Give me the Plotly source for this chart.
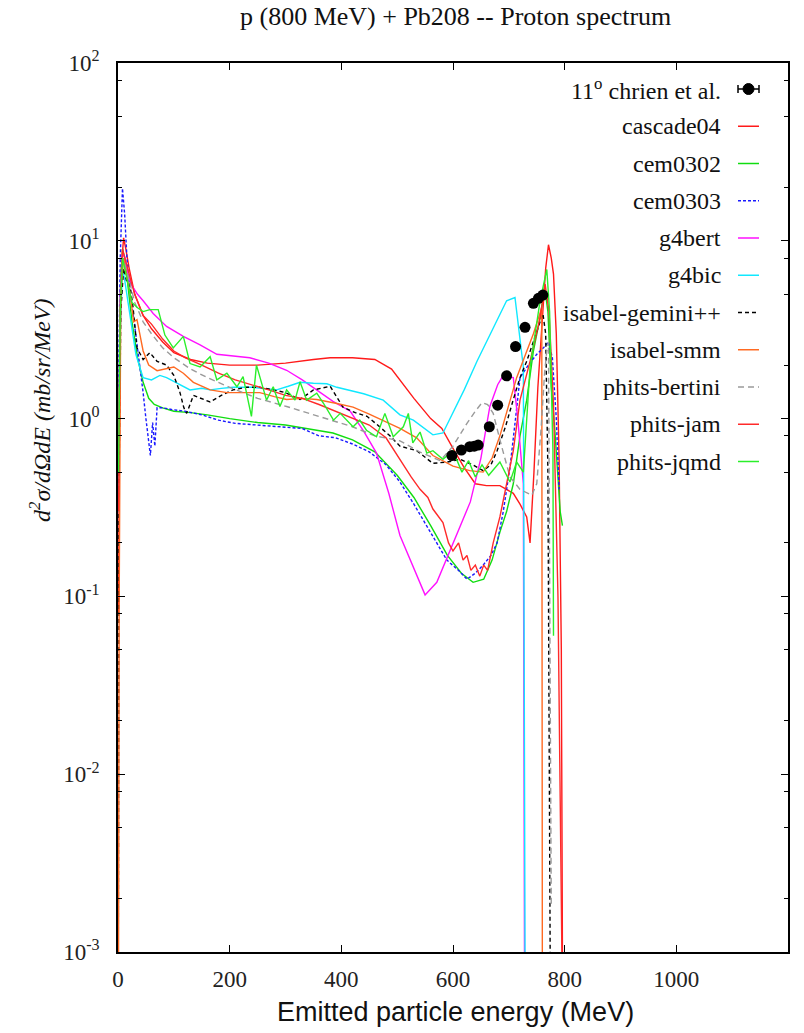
import plotly.graph_objects as go

# ---------------- data (E in MeV, values in mb/sr/MeV) ----------------
exp_E = [598, 615, 630, 638, 645, 665, 680, 696, 712, 729, 744, 753, 761]
exp_V = [0.62, 0.665, 0.695, 0.70, 0.71, 0.90, 1.19, 1.74, 2.54, 3.26, 4.45, 4.75, 4.95]

cascade04_E = [1, 3, 6, 10, 14, 20, 30, 45, 60, 80, 100, 130, 160, 200, 250, 300, 350, 380, 420, 460,
               490, 505, 530, 560, 580, 600, 620, 640, 660, 684, 708, 720, 732, 738, 745, 752, 760, 766,
               771, 776, 780, 785, 790, 794, 796]
cascade04_V = [0.08, 2, 7, 10.4, 9, 7, 5, 3.8, 3.2, 2.7, 2.35, 2.15, 2.05, 2.0, 2.0, 2.05, 2.15, 2.2, 2.2, 2.15,
               1.9, 1.65, 1.3, 1.0, 0.88, 0.68, 0.53, 0.43, 0.42, 0.42, 0.38, 0.33, 0.28, 0.2, 0.5, 1.5, 3.5, 7,
               9.5, 8, 6.5, 3, 0.6, 0.05, 0.001]

cem0302_E = [1, 4, 8, 12, 18, 25, 35, 45, 55, 65, 80, 100, 130, 160, 200, 250, 300, 350, 385, 420, 460, 500,
             530, 560, 590, 615, 636, 655, 670, 684, 696, 708, 720, 732, 744, 756, 764, 770, 776, 782, 788,
             792, 796]
cem0302_V = [1.0, 5, 9, 8, 5.5, 3.5, 2.2, 1.6, 1.3, 1.2, 1.15, 1.1, 1.08, 1.05, 1.0, 0.95, 0.92, 0.87, 0.83,
             0.76, 0.65, 0.48, 0.36, 0.25, 0.17, 0.135, 0.12, 0.125, 0.16, 0.23, 0.3, 0.43, 0.8, 1.27, 2.4,
             3.7, 5.5, 4.0, 1.5, 0.9, 0.5, 0.3, 0.25]

cem0303_E = [1, 4, 8, 12, 16, 22, 28, 35, 40, 45, 50, 55, 58, 62, 66, 70, 80, 100, 120, 150, 180, 210, 250,
             290, 330, 360, 390, 420, 450, 480, 505, 530, 560, 589, 610, 625, 640, 654, 668, 679, 690, 702,
             712, 720, 735, 750, 762, 771, 778, 785, 790]
cem0303_V = [1.5, 8, 19.7, 14, 8, 5, 3.7, 2.5, 1.95, 1.4, 1.0, 0.75, 0.62, 0.95, 0.7, 1.15, 1.15, 1.12, 1.1,
             1.05, 0.98, 0.94, 0.92, 0.9, 0.88, 0.8, 0.78, 0.72, 0.65, 0.55, 0.44, 0.33, 0.23, 0.16, 0.14,
             0.125, 0.135, 0.15, 0.17, 0.2, 0.3, 0.53, 1.0, 1.7, 2.0, 2.3, 2.5, 2.7, 2.2, 1.0, 0.4]

g4bert_E = [1, 4, 8, 12, 18, 25, 35, 45, 63, 87, 117, 147, 177, 206, 236, 270, 302, 330, 356, 385, 416, 440,
            463, 485, 505, 528, 550, 571, 600, 631, 650, 666, 680, 690, 700, 708, 716, 726, 728]
g4bert_V = [0.5, 5, 8.5, 8.1, 6.5, 5.6, 5.0, 4.6, 3.9, 3.3, 2.9, 2.6, 2.3, 2.25, 2.2, 2.05, 1.87, 1.65, 1.45,
            1.25, 1.1, 0.85, 0.64, 0.38, 0.22, 0.15, 0.102, 0.12, 0.2, 0.34, 0.6, 1.17, 1.55, 1.75, 1.72,
            1.7, 1.0, 0.43, 0.001]

g4bic_E = [1, 4, 8, 12, 18, 25, 32, 40, 45, 60, 75, 87, 110, 129, 150, 165, 185, 206, 240, 284, 305, 326,
           350, 374, 392, 410, 440, 475, 505, 529, 550, 564, 582, 595, 620, 643, 670, 696, 711, 718, 726, 729]
g4bic_V = [0.3, 3, 7, 6, 4.5, 3.2, 2.3, 1.9, 1.7, 1.65, 1.75, 1.7, 1.55, 1.45, 1.48, 1.45, 1.48, 1.5, 1.5,
           1.45, 1.52, 1.6, 1.58, 1.57, 1.5, 1.45, 1.38, 1.27, 1.05, 0.98, 0.88, 0.81, 0.83, 1.0, 1.45, 2.1,
           3.1, 4.6, 4.8, 3.2, 1.95, 0.001]

gemini_E = [0.5, 2, 5, 10, 15, 21, 27, 34, 45, 57, 70, 87, 100, 111, 118, 123, 135, 150, 165, 185, 206, 230,
            254, 278, 300, 326, 350, 380, 403, 425, 446, 465, 487, 505, 535, 564, 590, 613, 635, 654, 668,
            679, 694, 708, 720, 732, 745, 756, 761, 766, 770, 774]
gemini_V = [0.001, 0.5, 4, 7, 6, 5.8, 4.2, 2.5, 2.15, 2.35, 2.1, 2.0, 1.75, 1.4, 1.15, 1.07, 1.35, 1.3, 1.24,
            1.35, 1.45, 1.5, 1.5, 1.45, 1.4, 1.28, 1.45, 1.52, 1.16, 1.08, 1.03, 0.92, 0.8, 0.7, 0.66, 0.56,
            0.57, 0.59, 0.55, 0.51, 0.55, 0.66, 0.9, 1.28, 1.7, 2.1, 2.8, 3.5, 3.9, 3.0, 0.5, 0.001]

smm_E = [1, 2, 5, 10, 15, 22, 28, 34, 45, 55, 70, 87, 100, 117, 135, 165, 195, 225, 254, 280, 302, 330, 356,
         390, 421, 450, 475, 505, 535, 564, 600, 630, 654, 670, 684, 700, 714, 730, 744, 752, 759, 760]
smm_V = [0.001, 0.08, 5, 8, 6.5, 5, 3.5, 3.6, 2.4, 2.0, 1.86, 1.9, 1.95, 1.8, 1.6, 1.45, 1.4, 1.4, 1.4, 1.33,
         1.28, 1.3, 1.28, 1.22, 1.16, 1.06, 0.97, 0.88, 0.78, 0.62, 0.54, 0.51, 0.5, 0.6, 0.8, 1.2, 1.7, 2.3,
         3.0, 3.6, 4.2, 0.001]

bertini_E = [1, 4, 8, 12, 20, 30, 45, 60, 80, 100, 130, 160, 200, 250, 302, 350, 385, 420, 460, 505, 540,
             577, 600, 625, 640, 652, 662, 672, 687, 702, 720, 741, 750, 758, 764, 768, 771, 774, 776]
bertini_V = [0.5, 5, 8, 7.5, 6, 4.5, 3.5, 3.0, 2.5, 2.2, 1.9, 1.7, 1.5, 1.3, 1.17, 1.05, 0.98, 0.9, 0.8, 0.75,
             0.65, 0.58, 0.7, 0.94, 1.1, 1.23, 1.2, 1.07, 0.7, 0.47, 0.4, 0.37, 0.43, 0.9, 1.8, 2.4, 2.7, 0.01,
             0.0018]

jam_E = [1, 4, 8, 12, 20, 30, 45, 60, 80, 100, 120, 150, 180, 210, 240, 270, 300, 330, 360, 390, 420, 450,
         480, 495, 510, 525, 541, 555, 564, 575, 582, 592, 600, 610, 618, 625, 632, 640, 648, 655, 662, 672,
         684, 696, 708, 720, 738, 756, 765, 772, 780, 788, 795]
jam_V = [0.3, 4, 9, 8, 6.5, 5, 3.8, 3.4, 2.8, 2.4, 2.2, 2.0, 1.8, 1.65, 1.55, 1.45, 1.35, 1.3, 1.2, 1.1, 1.0,
         0.92, 0.78, 0.66, 0.55, 0.47, 0.4, 0.36, 0.31, 0.28, 0.26, 0.2, 0.18, 0.2, 0.16, 0.17, 0.14, 0.15,
         0.13, 0.15, 0.14, 0.2, 0.28, 0.43, 0.66, 1.27, 2.1, 3.7, 5.7, 4.0, 1.2, 0.1, 0.001]

jqmd_E = [1, 4, 8, 12, 18, 25, 35, 45, 57, 72, 84, 99, 117, 129, 147, 165, 177, 195, 213, 224, 239, 248, 266,
          278, 290, 302, 317, 326, 338, 356, 368, 386, 398, 421, 433, 445, 463, 478, 493, 511, 520, 528, 541,
          553, 564, 582, 600, 616, 628, 640, 652, 664, 684, 702, 714, 726, 738, 756, 768, 773, 779, 780]
jqmd_V = [0.5, 4, 8, 7, 5.5, 4.5, 4.2, 4.0, 4.1, 4.1, 2.95, 2.5, 2.9, 2.04, 1.95, 2.23, 1.65, 1.8, 1.51, 1.72,
          1.03, 2.0, 1.27, 1.51, 1.17, 1.45, 1.27, 1.61, 1.27, 1.39, 1.22, 0.98, 1.07, 0.9, 0.98, 0.86, 0.79,
          1.07, 0.79, 0.9, 1.07, 0.73, 0.84, 0.64, 0.66, 0.59, 0.66, 0.5, 0.58, 0.47, 0.55, 0.48, 0.57, 0.44,
          0.57, 0.5, 1.95, 4.6, 6.9, 4.0, 0.66, 0.06]

x_ticks = [0, 200, 400, 600, 800, 1000, 1200]
y_ticks = [1e-3, 1e-2, 1e-1, 1, 10, 100]
y_tick_text = ["10<sup>-3</sup>", "10<sup>-2</sup>", "10<sup>-1</sup>", "10<sup>0</sup>", "10<sup>1</sup>",
               "10<sup>2</sup>"]

series = [
    ("cascade04", cascade04_E, cascade04_V, "#ff1a1a", "solid"),
    ("cem0302", cem0302_E, cem0302_V, "#10dd10", "solid"),
    ("cem0303", cem0303_E, cem0303_V, "#1a1aff", "3px,2px"),
    ("g4bert", g4bert_E, g4bert_V, "#ff10ff", "solid"),
    ("g4bic", g4bic_E, g4bic_V, "#10e8ff", "solid"),
    ("isabel-gemini++", gemini_E, gemini_V, "#000000", "4px,3px"),
    ("isabel-smm", smm_E, smm_V, "#ff6a22", "solid"),
    ("phits-bertini", bertini_E, bertini_V, "#9a9a9a", "6px,4px"),
    ("phits-jam", jam_E, jam_V, "#ff2a2a", "solid"),
    ("phits-jqmd", jqmd_E, jqmd_V, "#2aef2a", "solid"),
]

# ---------------- layout geometry ----------------
W, H = 804, 1033
L, R, T, B = 118, 788, 63, 952


def px_x(px):
    return (px - L) / (R - L)


def px_y(py):
    return (B - py) / (B - T)


fig = go.Figure()
for name, E, V, col, dash in series:
    fig.add_trace(go.Scatter(x=E, y=V, mode="lines", name=name,
                             line=dict(color=col, width=1.4, dash=dash), showlegend=False))

fig.add_trace(go.Scatter(x=exp_E, y=exp_V, mode="markers", name="11° chrien et al.",
                         marker=dict(color="black", size=11), showlegend=False))

serif = "Liberation Serif"
sans = "Liberation Sans"

# ---------------- manual gnuplot-style legend ----------------
annotations = []
shapes = []
leg_y0, leg_dy = 89, 37.25
txt_right = 723
s0, s1 = 738, 759
labels = ["11<sup>o</sup> chrien et al."] + [s[0] for s in series]
for i, lab in enumerate(labels):
    yy = leg_y0 + i * leg_dy
    annotations.append(dict(x=px_x(txt_right), y=px_y(yy), xref="paper", yref="paper", text=lab,
                            showarrow=False, xanchor="right", yanchor="middle",
                            font=dict(family=serif, size=24, color="#111")))
    if i == 0:
        shapes.append(dict(type="line", xref="paper", yref="paper", x0=px_x(s0), x1=px_x(s1),
                           y0=px_y(yy), y1=px_y(yy), line=dict(color="black", width=1.5)))
        for xe in (s0, s1):
            shapes.append(dict(type="line", xref="paper", yref="paper", x0=px_x(xe), x1=px_x(xe),
                               y0=px_y(yy - 4), y1=px_y(yy + 4), line=dict(color="black", width=1.5)))
        cx = (s0 + s1) / 2
        shapes.append(dict(type="circle", xref="paper", yref="paper", x0=px_x(cx - 5.5), x1=px_x(cx + 5.5),
                           y0=px_y(yy - 5.5), y1=px_y(yy + 5.5), fillcolor="black",
                           line=dict(color="black", width=1)))
    else:
        _, _, _, col, dash = series[i - 1]
        shapes.append(dict(type="line", xref="paper", yref="paper", x0=px_x(s0), x1=px_x(s1),
                           y0=px_y(yy), y1=px_y(yy), line=dict(color=col, width=1.5, dash=dash)))

# titles
annotations.append(dict(x=px_x(455), y=px_y(16), xref="paper", yref="paper",
                        text="p (800 MeV) + Pb208 -- Proton spectrum", showarrow=False,
                        xanchor="center", yanchor="middle", font=dict(family=serif, size=26, color="#111")))
annotations.append(dict(x=px_x(455), y=px_y(1012), xref="paper", yref="paper",
                        text="Emitted particle energy (MeV)", showarrow=False,
                        xanchor="center", yanchor="middle",
                        font=dict(family=sans, size=27, color="#111")))
annotations.append(dict(x=px_x(40), y=px_y(410), xref="paper", yref="paper",
                        text="<i>d<sup>2</sup>σ/dΩdE (mb/sr/MeV)</i>", showarrow=False, textangle=-90,
                        xanchor="center", yanchor="middle", font=dict(family=serif, size=24, color="#111")))

minor_vals = []
for d in [1e-3, 1e-2, 1e-1, 1, 10]:
    for m in (2, 5, 8):
        minor_vals.append(m * d)

fig.update_layout(
    width=W, height=H,
    margin=dict(l=L, r=W - R, t=T, b=H - B),
    paper_bgcolor="white", plot_bgcolor="white",
    font=dict(family=serif, size=23, color="#111"),
    showlegend=False,
    annotations=annotations, shapes=shapes,
    xaxis=dict(range=[0, 1200], tickvals=x_ticks, ticks="inside", ticklen=7, tickwidth=1.3,
               tickcolor="black", mirror="ticks", showline=True, linecolor="black", linewidth=1.6,
               showgrid=False, zeroline=False, ticklabelstandoff=6,
               tickfont=dict(family=serif, size=23, color="#222")),
    yaxis=dict(type="log", range=[-3, 2], tickvals=y_ticks, ticktext=y_tick_text, ticks="inside",
               ticklen=7, tickwidth=1.3, tickcolor="black", mirror="ticks", showline=True,
               linecolor="black", linewidth=1.6, showgrid=False, zeroline=False, ticklabelstandoff=12,
               tickfont=dict(family=serif, size=23, color="#222"),
               minor=dict(tickmode="array", tickvals=minor_vals, ticks="inside", ticklen=4,
                          tickcolor="black", tickwidth=1.2, showgrid=False)),
)

fig.write_html("out.html")
